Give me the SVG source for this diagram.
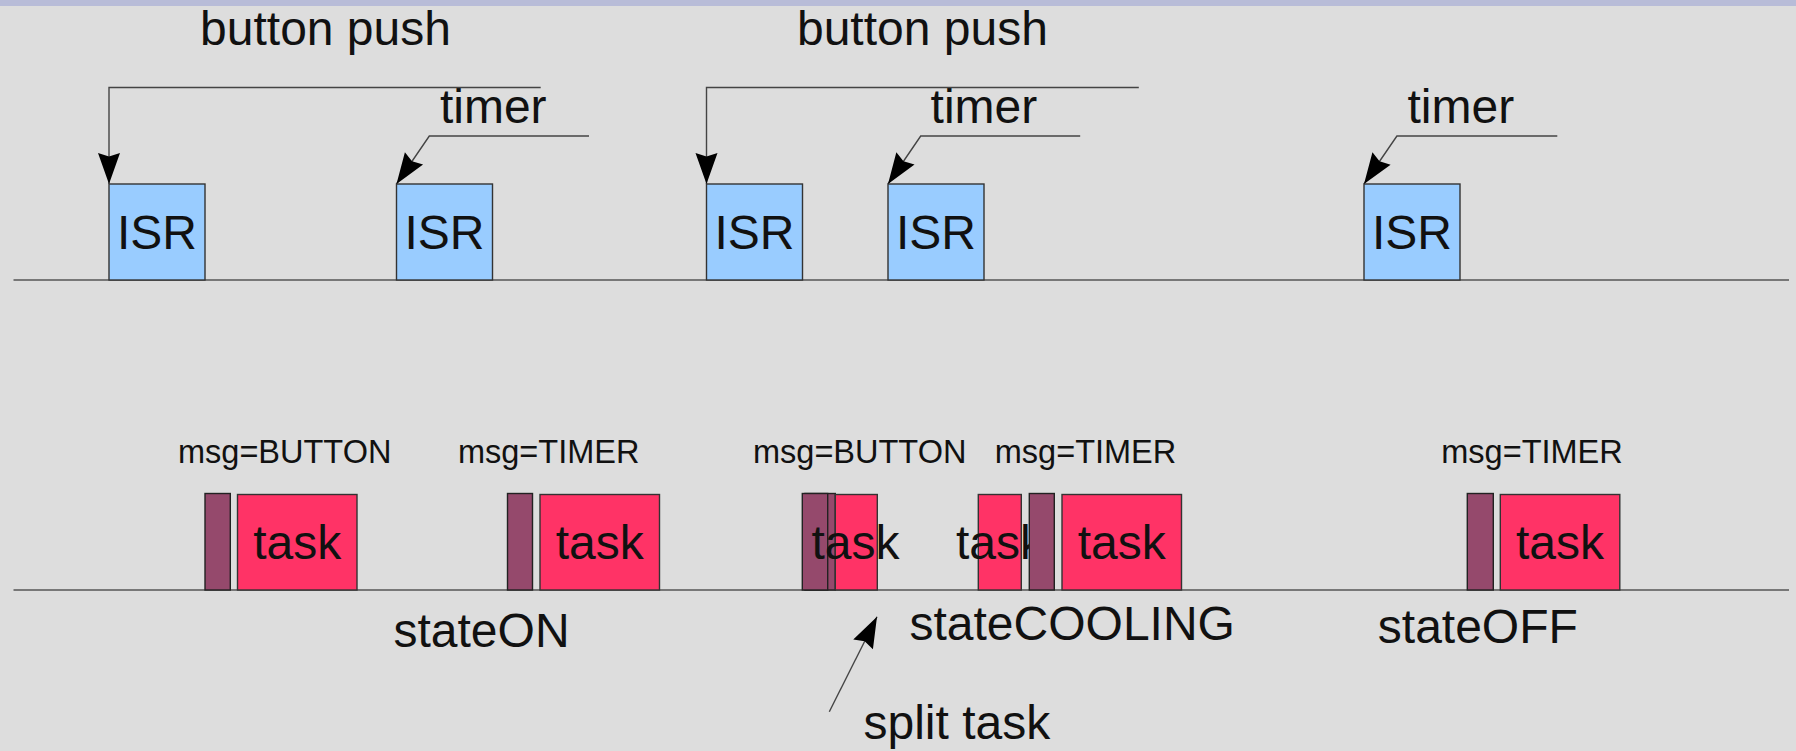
<svg xmlns="http://www.w3.org/2000/svg" width="1796" height="751" viewBox="0 0 1796 751">
<style>
.bg{fill:#dddddd}
.band{fill:#b8bcd8}
.axis{stroke:#555555;stroke-width:1.6;fill:none}
.conn{stroke:#444444;stroke-width:1.4;fill:none}
.isr{fill:#99ccff;stroke:#333333;stroke-width:1.4}
.task{fill:#ff3366;stroke:#333333;stroke-width:1.4}
.msg{fill:#95496c;stroke:#222222;stroke-width:1.4}
text{font-family:"Liberation Sans",Arial,sans-serif;fill:#111111}
.big{font-size:48px}
.small{font-size:32.5px}
.mid{text-anchor:middle}
</style>
<defs>
<marker id="ah" markerUnits="userSpaceOnUse" viewBox="-32 -12 33 24" markerWidth="33" markerHeight="24" refX="0" refY="0" orient="auto">
<path d="M0,0 L-31,-11 L-27.5,0 L-31,11 Z" fill="#000000"/>
</marker>
</defs>
<rect class="bg" x="0" y="0" width="1796" height="751"/>
<rect class="band" x="0" y="0" width="1796" height="6"/>

<g id="axes">
<path class="axis" d="M13.5,280 H1789"/>
<path class="axis" d="M13.5,590 H1789"/>
</g>

<g id="labels-top">
<text class="big mid" x="325.5" y="45">button push</text>
<text class="big mid" x="922.4" y="45">button push</text>
<text class="big" x="439.9" y="123.3">timer</text>
<text class="big" x="930.6" y="123.3">timer</text>
<text class="big" x="1407.5" y="123.3">timer</text>
</g>

<g id="isr1"><rect class="isr" x="109" y="184" width="96" height="96"/><text class="big mid" x="157" y="249.3">ISR</text></g>
<g id="isr2"><rect class="isr" x="396.5" y="184" width="96" height="96"/><text class="big mid" x="444.5" y="249.3">ISR</text></g>
<g id="isr3"><rect class="isr" x="706.5" y="184" width="96" height="96"/><text class="big mid" x="754.5" y="249.3">ISR</text></g>
<g id="isr4"><rect class="isr" x="888" y="184" width="96" height="96"/><text class="big mid" x="936" y="249.3">ISR</text></g>
<g id="isr5"><rect class="isr" x="1364" y="184" width="96" height="96"/><text class="big mid" x="1412" y="249.3">ISR</text></g>

<g id="msg-labels">
<text class="small mid" x="284.7" y="463.3">msg=BUTTON</text>
<text class="small mid" x="548.7" y="463.3">msg=TIMER</text>
<text class="small mid" x="859.7" y="463.3">msg=BUTTON</text>
<text class="small mid" x="1085.5" y="463.3">msg=TIMER</text>
<text class="small mid" x="1532" y="463.3">msg=TIMER</text>
</g>

<g id="slot1">
<rect class="msg" x="205" y="493.5" width="25.3" height="96.5"/>
<rect class="task" x="237.5" y="494.5" width="119.5" height="95.5"/>
<text class="big mid" x="297.2" y="559.3">task</text>
</g>
<g id="slot2">
<rect class="msg" x="507.5" y="493.5" width="25" height="96.5"/>
<rect class="task" x="540" y="494.5" width="119.5" height="95.5"/>
<text class="big mid" x="599.7" y="559.3">task</text>
</g>
<g id="slot3">
<rect class="msg" x="805" y="493.5" width="30.3" height="96.5"/>
<rect class="msg" x="802.3" y="493.5" width="25.4" height="96.5"/>
<rect class="task" x="835.3" y="494.5" width="42" height="95.5"/>
<text class="big mid" x="855.5" y="559.3">task</text>
</g>
<g id="slot4">
<rect class="task" x="978.3" y="494.5" width="43" height="95.5"/>
<text class="big mid" x="1000" y="559.3">task</text>
<rect class="msg" x="1029.3" y="493.5" width="25" height="96.5"/>
<rect class="task" x="1062" y="494.5" width="119.5" height="95.5"/>
<text class="big mid" x="1121.7" y="559.3">task</text>
</g>
<g id="slot5">
<rect class="msg" x="1467.3" y="493.5" width="26" height="96.5"/>
<rect class="task" x="1500.3" y="494.5" width="119.5" height="95.5"/>
<text class="big mid" x="1560" y="559.3">task</text>
</g>

<g id="state-labels">
<text class="big" x="393.5" y="646.7">stateON</text>
<text class="big" x="909.5" y="640">stateCOOLING</text>
<text class="big" x="1377.8" y="642.7">stateOFF</text>
<text class="big" x="863.5" y="738.5">split task</text>
</g>

<g id="connectors">
<path class="conn" d="M540.7,87.5 H109 V184" marker-end="url(#ah)"/>
<path class="conn" d="M589,136 H429.3 L396.5,184" marker-end="url(#ah)"/>
<path class="conn" d="M1138.8,87.5 H706.5 V184" marker-end="url(#ah)"/>
<path class="conn" d="M1080.2,136 H920.7 L888,184" marker-end="url(#ah)"/>
<path class="conn" d="M1557.3,136 H1396.9 L1364,184" marker-end="url(#ah)"/>
<path class="conn" d="M829.3,711.7 L877,616.7" marker-end="url(#ah)"/>
</g>
</svg>
